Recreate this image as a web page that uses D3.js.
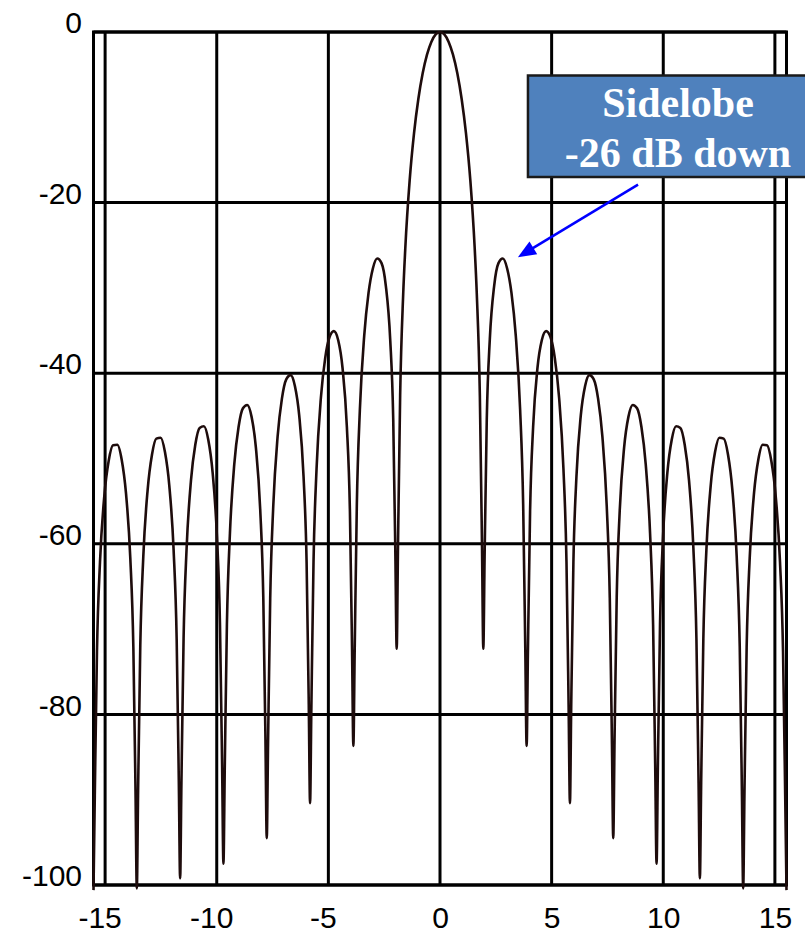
<!DOCTYPE html>
<html>
<head>
<meta charset="utf-8">
<script src="https://cdn.jsdelivr.net/npm/d3@7"></script>
<style>
  html, body { margin: 0; padding: 0; background: #ffffff; }
  svg { display: block; }
</style>
</head>
<body>
<svg id="chart" width="805" height="936"></svg>
<script>
// Beam pattern in dB versus angle, one row per lobe (left to right)
const angle = [
  -15.52, -15.462, -15.365, -15.229, -15.035, -14.841, -14.647, -14.453, -14.259, -14.065, -13.871, -13.735, -13.638,
  -13.58, -13.522, -13.425, -13.289, -13.095, -12.901, -12.707, -12.513, -12.319, -12.125, -11.931, -11.795, -11.698,
  -11.64, -11.582, -11.485, -11.349, -11.155, -10.961, -10.767, -10.573, -10.379, -10.185, -9.991, -9.855, -9.758,
  -9.70, -9.642, -9.545, -9.409, -9.215, -9.021, -8.827, -8.633, -8.439, -8.245, -8.051, -7.915, -7.818,
  -7.76, -7.702, -7.605, -7.469, -7.275, -7.081, -6.887, -6.693, -6.499, -6.305, -6.111, -5.975, -5.878,
  -5.82, -5.762, -5.665, -5.529, -5.335, -5.141, -4.947, -4.753, -4.559, -4.365, -4.171, -4.035, -3.938,
  -3.88, -3.822, -3.725, -3.589, -3.395, -3.201, -3.007, -2.813, -2.619, -2.425, -2.231, -2.095, -1.998,
  -1.94, -1.882, -1.785, -1.649, -1.552, -1.358, -1.164, -0.97, -0.776, -0.582, -0.388, -0.194,
  0,
  0.194, 0.388, 0.582, 0.776, 0.97, 1.164, 1.358, 1.552, 1.649, 1.785, 1.882, 1.94,
  1.998, 2.095, 2.231, 2.425, 2.619, 2.813, 3.007, 3.201, 3.395, 3.589, 3.725, 3.822, 3.88,
  3.938, 4.035, 4.171, 4.365, 4.559, 4.753, 4.947, 5.141, 5.335, 5.529, 5.665, 5.762, 5.82,
  5.878, 5.975, 6.111, 6.305, 6.499, 6.693, 6.887, 7.081, 7.275, 7.469, 7.605, 7.702, 7.76,
  7.818, 7.915, 8.051, 8.245, 8.439, 8.633, 8.827, 9.021, 9.215, 9.409, 9.545, 9.642, 9.70,
  9.758, 9.855, 9.991, 10.185, 10.379, 10.573, 10.767, 10.961, 11.155, 11.349, 11.485, 11.582, 11.64,
  11.698, 11.795, 11.931, 12.125, 12.319, 12.513, 12.707, 12.901, 13.095, 13.289, 13.425, 13.522, 13.58,
  13.638, 13.735, 13.871, 14.065, 14.259, 14.453, 14.647, 14.841, 15.035, 15.229, 15.365, 15.462, 15.52
];

const levelDb = [
  -100.6, -89.54, -72.62, -62.13, -54.37, -50.29, -48.45, -48.39, -50.11, -54.07, -61.71, -72.12, -88.98,
  -100.4, -88.93, -71.99, -61.47, -53.67, -49.55, -47.67, -47.57, -49.25, -53.17, -60.77, -71.15, -87.99,
  -99.2, -88.05, -71.07, -60.49, -52.60, -48.39, -46.42, -46.22, -47.81, -51.64, -59.15, -69.47, -86.27,
  -97.5, -86.57, -69.49, -58.77, -50.69, -46.28, -44.11, -43.73, -45.12, -48.75, -56.07, -66.25, -82.95,
  -94.5, -83.50, -66.39, -55.63, -47.47, -42.98, -40.72, -40.22, -41.49, -44.98, -52.14, -62.20, -78.80,
  -90.4, -79.25, -62.07, -51.20, -42.88, -38.21, -35.76, -35.07, -36.13, -39.39, -46.30, -56.17, -72.64,
  -83.7, -72.72, -55.39, -44.29, -35.63, -30.59, -27.72, -26.56, -27.10, -29.78, -36.03, -45.39, -61.46,
  -72.3, -60.41, -42.61, -30.78, -25.24, -17.37, -11.88, -7.85, -4.84, -2.65, -1.16, -0.29,
  0,
  -0.29, -1.16, -2.65, -4.84, -7.85, -11.88, -17.37, -25.24, -30.78, -42.61, -60.41, -72.3,
  -61.46, -45.39, -36.03, -29.78, -27.10, -26.56, -27.72, -30.59, -35.63, -44.29, -55.39, -72.72, -83.7,
  -72.64, -56.17, -46.30, -39.39, -36.13, -35.07, -35.76, -38.21, -42.88, -51.20, -62.07, -79.25, -90.4,
  -78.80, -62.20, -52.14, -44.98, -41.49, -40.22, -40.72, -42.98, -47.47, -55.63, -66.39, -83.50, -94.5,
  -82.95, -66.25, -56.07, -48.75, -45.12, -43.73, -44.11, -46.28, -50.69, -58.77, -69.49, -86.57, -97.5,
  -86.27, -69.47, -59.15, -51.64, -47.81, -46.22, -46.42, -48.39, -52.60, -60.49, -71.07, -88.05, -99.2,
  -87.99, -71.15, -60.77, -53.17, -49.25, -47.57, -47.67, -49.55, -53.67, -61.47, -71.99, -88.93, -100.4,
  -88.98, -72.12, -61.71, -54.07, -50.11, -48.39, -48.45, -50.29, -54.37, -62.13, -72.62, -89.54, -100.6
];

const xTicks = [-15, -10, -5, 0, 5, 10, 15];
const yTicks = [0, -20, -40, -60, -80, -100];

// Callout: text lines, box corners and arrow ends in data units
const calloutLines = ["Sidelobe", "-26 dB down"];
const calloutBox = { x0: 3.94, x1: 16.6, y0: -5.1, y1: -17.0 };
const calloutText = { x: 10.66, y: [-9.93, -15.8] };
const calloutArrow = { from: [8.87, -17.9], to: [3.49, -26.4] };

const svg = d3.select("#chart");
const plotLeft = 93.5, plotRight = 786.5, plotTop = 32, plotBottom = 885;

const x = d3.scaleLinear().domain([-15.52, 15.52]).range([plotLeft, plotRight]);
const y = d3.scaleLinear().domain([-100, 0]).range([plotBottom, plotTop]);

svg.append("rect").attr("width", 805).attr("height", 936).attr("fill", "#ffffff");

// Grid
const grid = svg.append("g").attr("stroke", "#000").attr("stroke-width", 3);
grid.selectAll("line.h").data(yTicks).join("line")
  .attr("class", "h")
  .attr("x1", plotLeft).attr("x2", plotRight)
  .attr("y1", d => y(d)).attr("y2", d => y(d));
grid.selectAll("line.v").data(xTicks).join("line")
  .attr("class", "v")
  .attr("x1", d => x(d)).attr("x2", d => x(d))
  .attr("y1", plotTop).attr("y2", plotBottom);
svg.append("rect")
  .attr("x", plotLeft).attr("y", plotTop)
  .attr("width", plotRight - plotLeft).attr("height", plotBottom - plotTop)
  .attr("fill", "none").attr("stroke", "#000").attr("stroke-width", 3);

// Axes (labels only)
const font = "'Liberation Sans', Arial, sans-serif";
const yAxis = svg.append("g")
  .attr("transform", `translate(${plotLeft},0)`)
  .call(d3.axisLeft(y).tickValues(yTicks).tickSize(0).tickPadding(11.5).tickFormat(d => String(d)));
yAxis.select(".domain").remove();
yAxis.selectAll("text")
  .attr("dy", "0.02em")
  .attr("font-family", font).attr("font-size", 30).attr("fill", "#000");

const xAxis = svg.append("g")
  .attr("transform", `translate(0,${plotBottom})`)
  .call(d3.axisBottom(x).tickValues(xTicks).tickSize(0).tickFormat(d => String(d)));
xAxis.select(".domain").remove();
xAxis.selectAll("text")
  .attr("y", 43).attr("dy", 0)
  .attr("dx", d => d < 0 ? -5.5 : 0)
  .attr("font-family", font).attr("font-size", 30).attr("fill", "#000");

// Pattern curve
const pts = angle.map((a, i) => [a, levelDb[i]]);
svg.append("path")
  .datum(pts)
  .attr("fill", "none")
  .attr("stroke", "#1e0c0c")
  .attr("stroke-width", 2.6)
  .attr("stroke-linejoin", "round")
  .attr("d", d3.line().x(d => x(d[0])).y(d => y(d[1])).curve(d3.curveMonotoneX));

// Callout box
svg.append("rect")
  .attr("x", x(calloutBox.x0)).attr("y", y(calloutBox.y0))
  .attr("width", x(calloutBox.x1) - x(calloutBox.x0))
  .attr("height", y(calloutBox.y1) - y(calloutBox.y0))
  .attr("fill", "#4f81bd").attr("stroke", "#1a1a1a").attr("stroke-width", 2.5);

svg.append("g").selectAll("text").data(calloutLines).join("text")
  .attr("x", x(calloutText.x))
  .attr("y", (d, i) => y(calloutText.y[i]))
  .attr("text-anchor", "middle")
  .attr("font-family", "'Liberation Serif', 'Times New Roman', serif")
  .attr("font-weight", "bold").attr("font-size", 42).attr("fill", "#ffffff")
  .text(d => d);

// Arrow pointing at the first sidelobe
const ax0 = x(calloutArrow.from[0]), ay0 = y(calloutArrow.from[1]);
const ax1 = x(calloutArrow.to[0]), ay1 = y(calloutArrow.to[1]);
const len = Math.hypot(ax1 - ax0, ay1 - ay0);
const ux = (ax1 - ax0) / len, uy = (ay1 - ay0) / len;
const headLen = 18, headHalf = 7.5;
svg.append("line")
  .attr("x1", ax0).attr("y1", ay0)
  .attr("x2", ax1 - ux * (headLen - 2)).attr("y2", ay1 - uy * (headLen - 2))
  .attr("stroke", "#0000ff").attr("stroke-width", 2.5);
const bx = ax1 - ux * headLen, by = ay1 - uy * headLen;
svg.append("path")
  .attr("d", `M${ax1},${ay1} L${bx - uy * headHalf},${by + ux * headHalf} L${bx + uy * headHalf},${by - ux * headHalf} Z`)
  .attr("fill", "#0000ff");
</script>
</body>
</html>
